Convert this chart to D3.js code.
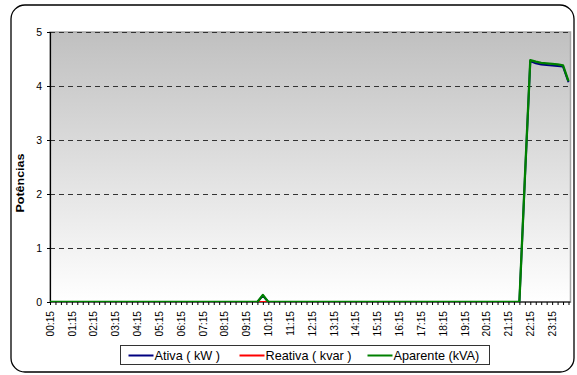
<!DOCTYPE html>
<html>
<head>
<meta charset="utf-8">
<script src="https://cdn.jsdelivr.net/npm/d3@7"></script>
<style>
  html, body { margin: 0; padding: 0; background: #fff; }
  svg { display: block; font-family: Arial, "Liberation Sans", sans-serif; }
</style>
</head>
<body>
<svg id="chart" width="577" height="375"></svg>
<script>
// 15-minute readings over one day
const times = [
  "00:15","00:30","00:45","01:00","01:15","01:30","01:45","02:00",
  "02:15","02:30","02:45","03:00","03:15","03:30","03:45","04:00",
  "04:15","04:30","04:45","05:00","05:15","05:30","05:45","06:00",
  "06:15","06:30","06:45","07:00","07:15","07:30","07:45","08:00",
  "08:15","08:30","08:45","09:00","09:15","09:30","09:45","10:00",
  "10:15","10:30","10:45","11:00","11:15","11:30","11:45","12:00",
  "12:15","12:30","12:45","13:00","13:15","13:30","13:45","14:00",
  "14:15","14:30","14:45","15:00","15:15","15:30","15:45","16:00",
  "16:15","16:30","16:45","17:00","17:15","17:30","17:45","18:00",
  "18:15","18:30","18:45","19:00","19:15","19:30","19:45","20:00",
  "20:15","20:30","20:45","21:00","21:15","21:30","21:45","22:00",
  "22:15","22:30","22:45","23:00","23:15","23:30","23:45","24:00"
];

// Labelled categories on the time axis
const tickLabels = [
  "00:15","01:15","02:15","03:15","04:15","05:15","06:15","07:15",
  "08:15","09:15","10:15","11:15","12:15","13:15","14:15","15:15",
  "16:15","17:15","18:15","19:15","20:15","21:15","22:15","23:15"
];

const yTicks = [0, 1, 2, 3, 4, 5];

// Ativa (kW)
const ativa = [
  0,0,0,0,0,0,0,0, 0,0,0,0,0,0,0,0, 0,0,0,0,0,0,0,0, 0,0,0,0,0,0,0,0,
  0,0,0,0,0,0,0,0.12, 0,0,0,0,0,0,0,0, 0,0,0,0,0,0,0,0, 0,0,0,0,0,0,0,0,
  0,0,0,0,0,0,0,0, 0,0,0,0,0,0,0,0, 0,0,0,0,0,0,0,2.26,
  4.46,4.42,4.40,4.39,4.38,4.37,4.36,4.07
];

// Reativa (kvar)
const reativa = [
  0,0,0,0,0,0,0,0, 0,0,0,0,0,0,0,0, 0,0,0,0,0,0,0,0, 0,0,0,0,0,0,0,0,
  0,0,0,0,0,0,0,0, 0,0,0,0,0,0,0,0, 0,0,0,0,0,0,0,0, 0,0,0,0,0,0,0,0,
  0,0,0,0,0,0,0,0, 0,0,0,0,0,0,0,0, 0,0,0,0,0,0,0,null,
  null,null,null,null,null,null,null,null
];

// Aparente (kVA)
const aparente = [
  0,0,0,0,0,0,0,0, 0,0,0,0,0,0,0,0, 0,0,0,0,0,0,0,0, 0,0,0,0,0,0,0,0,
  0,0,0,0,0,0,0,0.13, 0,0,0,0,0,0,0,0, 0,0,0,0,0,0,0,0, 0,0,0,0,0,0,0,0,
  0,0,0,0,0,0,0,0, 0,0,0,0,0,0,0,0, 0,0,0,0,0,0,0,2.28,
  4.48,4.45,4.43,4.42,4.41,4.40,4.38,4.09
];

const series = [
  { name: "Ativa ( kW )",     values: ativa,    color: "#000080", width: 2 },
  { name: "Reativa ( kvar )", values: reativa,  color: "#ff0000", width: 2 },
  { name: "Aparente (kVA)",   values: aparente, color: "#008000", width: 2.3 }
];

const svg = d3.select("#chart");
const plot = { left: 50, right: 570.5, top: 32, bottom: 302 };

// Outer rounded frame
svg.append("rect")
  .attr("x", 11).attr("y", 5)
  .attr("width", 563).attr("height", 367)
  .attr("rx", 14).attr("ry", 14)
  .attr("fill", "#fff")
  .attr("stroke", "#000")
  .attr("stroke-width", 1.3);

const x = d3.scalePoint().domain(times).range([plot.left, 568.5]);
const y = d3.scaleLinear().domain([0, 5]).range([plot.bottom, plot.top]);

// Gray-to-white plot background
const defs = svg.append("defs");
const grad = defs.append("linearGradient")
  .attr("id", "plotBg").attr("x1", 0).attr("y1", 0).attr("x2", 0).attr("y2", 1);
grad.append("stop").attr("offset", "0%").attr("stop-color", "#c0c0c0");
grad.append("stop").attr("offset", "100%").attr("stop-color", "#ffffff");

defs.append("clipPath").attr("id", "plotClip")
  .append("rect")
  .attr("x", plot.left).attr("y", plot.top - 2)
  .attr("width", plot.right - plot.left).attr("height", plot.bottom - plot.top + 2);

svg.append("rect")
  .attr("x", plot.left).attr("y", plot.top)
  .attr("width", plot.right - plot.left).attr("height", plot.bottom - plot.top)
  .attr("fill", "url(#plotBg)")
  .attr("stroke", "#a6a6a6")
  .attr("stroke-width", 1.5);

// Dashed horizontal gridlines
svg.append("g")
  .selectAll("line")
  .data(yTicks.filter(d => d > 0))
  .join("line")
  .attr("x1", plot.left).attr("x2", plot.right - 1)
  .attr("y1", d => y(d) + 0.5).attr("y2", d => y(d) + 0.5)
  .attr("stroke", "#333")
  .attr("stroke-width", 1)
  .attr("stroke-dasharray", "5,4");

// Y axis
const yAxis = d3.axisLeft(y).tickValues(yTicks).tickSize(3).tickPadding(5).tickFormat(d3.format("d"));
const yg = svg.append("g").attr("transform", `translate(${plot.left},0)`).call(yAxis);
yg.select(".domain").attr("stroke", "#000").attr("stroke-width", 1.2);
yg.selectAll(".tick line").attr("stroke", "#000");
yg.selectAll(".tick text")
  .attr("font-size", "10.5px").attr("fill", "#000")
  .attr("font-family", "Arial, 'Liberation Sans', sans-serif");

// X axis: a tick at every reading, a label every hour
const xAxis = d3.axisBottom(x).tickSize(3).tickSizeOuter(0).tickFormat(() => "");
const xg = svg.append("g").attr("transform", `translate(0,${plot.bottom})`).call(xAxis);
xg.select(".domain").attr("stroke", "#000").attr("stroke-width", 1.2)
  .attr("d", `M${plot.left},0H${plot.right}`);
xg.selectAll(".tick line").attr("stroke", "#000");

svg.append("g")
  .selectAll("text")
  .data(tickLabels)
  .join("text")
  .attr("transform", d => `translate(${x(d) + 3.8},311) rotate(-90)`)
  .attr("text-anchor", "end")
  .attr("font-size", "10.2px")
  .attr("fill", "#000")
  .text(d => d);

// Y axis title
svg.append("text")
  .attr("transform", "translate(23.5,183) rotate(-90) scale(1,0.8)")
  .attr("text-anchor", "middle")
  .attr("font-size", "12.5px")
  .attr("font-weight", "bold")
  .attr("fill", "#000")
  .text("Potências");

// Series lines
const line = d3.line()
  .defined(d => d.v !== null)
  .x(d => x(d.t))
  .y(d => y(d.v));

const lines = svg.append("g").attr("clip-path", "url(#plotClip)");
series.forEach(s => {
  lines.append("path")
    .datum(s.values.map((v, i) => ({ t: times[i], v })))
    .attr("fill", "none")
    .attr("stroke", s.color)
    .attr("stroke-width", s.width)
    .attr("stroke-linejoin", "round")
    .attr("d", line);
});

// Legend
const legend = svg.append("g");
legend.append("rect")
  .attr("x", 120.5).attr("y", 345.5)
  .attr("width", 369).attr("height", 19)
  .attr("fill", "#fff")
  .attr("stroke", "#333")
  .attr("stroke-width", 1);

const legendX = [128.5, 239.5, 367.5];
series.forEach((s, i) => {
  legend.append("line")
    .attr("x1", legendX[i]).attr("x2", legendX[i] + 25)
    .attr("y1", 355.5).attr("y2", 355.5)
    .attr("stroke", s.color)
    .attr("stroke-width", 2);
  legend.append("text")
    .attr("x", legendX[i] + 26)
    .attr("y", 360)
    .attr("font-size", "12.7px")
    .attr("fill", "#000")
    .text(s.name);
});
</script>
</body>
</html>
